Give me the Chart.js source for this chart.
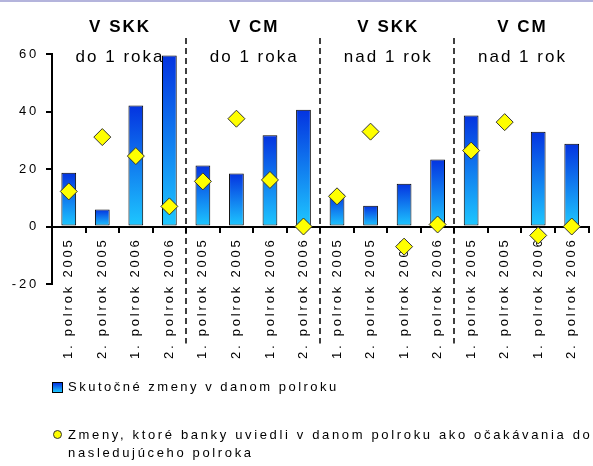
<!DOCTYPE html>
<html>
<head>
<meta charset="utf-8">
<script src="https://cdn.jsdelivr.net/npm/chart.js"></script>
<style>
  html, body { margin: 0; padding: 0; background: #fff; overflow: hidden; }
  #wrap { position: relative; width: 593px; height: 466px; overflow: hidden; }
  #topLine { position: absolute; left: 0; top: 0; width: 593px; height: 2px; background: #b4b4dc; }
  #myChart { position: absolute; left: 0; top: 0; }
  .legend { position: absolute; left: 68px; font-family: 'Liberation Sans', Arial, sans-serif;
            font-size: 13px; letter-spacing: 2.5px; color: #000; line-height: 18px; white-space: nowrap; }
  .boxMark { position: absolute; left: 52px; width: 9px; height: 9px; border: 1px solid #000;
             background: linear-gradient(#0433e0, #1ec8ff); }
  .dotMark { position: absolute; left: 53px; width: 7px; height: 7px; border: 1px solid #333;
             background: #ffff00; border-radius: 50%; }
</style>
</head>
<body>
<div id="wrap">
  <canvas id="myChart" width="598" height="466"></canvas>
  <div id="topLine"></div>
  <div class="boxMark" style="top:382px"></div>
  <div class="legend" style="top:378px">Skutočné zmeny v danom polroku</div>
  <div class="dotMark" style="top:430px"></div>
  <div class="legend" style="top:426px; letter-spacing: 2.65px">Zmeny, ktoré banky uviedli v danom polroku ako očakávania do<br>nasledujúceho polroka</div>
</div>
<script>
/* data */
const categories = [
  '1. polrok 2005', '2. polrok 2005', '1. polrok 2006', '2. polrok 2006',
  '1. polrok 2005', '2. polrok 2005', '1. polrok 2006', '2. polrok 2006',
  '1. polrok 2005', '2. polrok 2005', '1. polrok 2006', '2. polrok 2006',
  '1. polrok 2005', '2. polrok 2005', '1. polrok 2006', '2. polrok 2006'
];
const actualChanges = [18.7, 5.9, 42.1, 59.5, 21.2, 18.4, 31.7, 40.6, 11.4, 7.2, 14.9, 23.3, 38.6, null, 33.0, 28.8];
const expectedChanges = [12.2, 31.1, 24.5, 7.0, 15.7, 37.5, 16.2, 0, 10.5, 33.0, -7.0, 0.7, 26.4, 36.3, -3.1, 0];
const groupTitles = ['V SKK', 'V CM', 'V SKK', 'V CM'];
const groupSubtitles = ['do 1 roka', 'do 1 roka', 'nad 1 rok', 'nad 1 rok'];
const yMin = -20;
const yMax = 60;
const yStep = 20;

const fontFamily = "'Liberation Sans', Arial, sans-serif";

/* wide letter spacing for axis text */
const spacingPlugin = {
  id: 'spacing',
  beforeUpdate(chart) { chart.ctx.letterSpacing = '2.8px'; },
  beforeDraw(chart) { chart.ctx.letterSpacing = '2.8px'; }
};

/* group headers + dashed separators */
const groupPlugin = {
  id: 'groups',
  afterDraw(chart) {
    const ctx = chart.ctx;
    const x = chart.scales.x;
    const y = chart.scales.y;
    const zero = y.getPixelForValue(0);
    ctx.save();
    ctx.strokeStyle = '#000';
    ctx.lineWidth = 1.5;
    ctx.setLineDash([6, 4]);
    for (let g = 1; g < 4; g++) {
      const px = Math.round((x.getPixelForValue(4 * g - 1) + x.getPixelForValue(4 * g)) / 2);
      ctx.beginPath();
      ctx.moveTo(px, chart.chartArea.top - 16);
      ctx.lineTo(px, zero + 117);
      ctx.stroke();
    }
    ctx.setLineDash([]);
    ctx.fillStyle = '#000';
    ctx.textAlign = 'center';
    ctx.textBaseline = 'middle';
    ctx.letterSpacing = '2px';
    for (let g = 0; g < 4; g++) {
      const cx = (x.getPixelForValue(4 * g) + x.getPixelForValue(4 * g + 3)) / 2 + 1;
      ctx.font = 'bold 17px ' + fontFamily;
      ctx.fillText(groupTitles[g], cx, 27);
      ctx.font = '17px ' + fontFamily;
      ctx.fillText(groupSubtitles[g], cx, 57);
    }
    ctx.restore();
  }
};

let ctx = document.querySelector('#myChart').getContext('2d');
let myChart = new Chart(ctx, {
  type: 'bar',
  data: {
    labels: categories,
    datasets: [
      {
        type: 'line',
        label: 'Zmeny, ktoré banky uviedli v danom polroku ako očakávania do nasledujúceho polroka',
        data: expectedChanges,
        showLine: false,
        pointStyle: 'rectRot',
        pointRadius: 8.5,
        pointHoverRadius: 8.5,
        pointBackgroundColor: '#ffff00',
        pointBorderColor: '#333',
        pointBorderWidth: 1,
        clip: false,
        order: 0
      },
      {
        label: 'Skutočné zmeny v danom polroku',
        data: actualChanges,
        backgroundColor: (c) => {
          const chart = c.chart;
          if (!chart.chartArea || c.type !== 'data' || c.parsed.y == null) return '#1a7cf0';
          const y = chart.scales.y;
          const top = y.getPixelForValue(c.parsed.y);
          const base = y.getPixelForValue(0);
          const grad = chart.ctx.createLinearGradient(0, top, 0, base);
          grad.addColorStop(0, '#0433e0');
          grad.addColorStop(1, '#1ec8ff');
          return grad;
        },
        borderColor: '#000',
        borderWidth: 1,
        borderSkipped: false,
        barPercentage: 0.44,
        categoryPercentage: 1,
        order: 1
      }
    ]
  },
  options: {
    responsive: false,
    animation: false,
    devicePixelRatio: 1,
    layout: { padding: { top: 54, left: 0, right: 0, bottom: 182 } },
    plugins: {
      legend: { display: false },
      tooltip: { enabled: false },
      title: { display: false }
    },
    scales: {
      x: {
        position: { y: 0 },
        offset: true,
        grid: { display: true, offset: true, drawOnChartArea: false, tickLength: 5, color: '#000', lineWidth: 2 },
        border: { display: true, color: '#000', width: 2 },
        ticks: {
          autoSkip: false, minRotation: 90, maxRotation: 90, padding: 6,
          color: '#000', font: { family: fontFamily, size: 13 }
        },
        afterFit: (s) => { s.height = 10; }
      },
      y: {
        min: yMin,
        max: yMax,
        grid: { drawOnChartArea: false, tickLength: 6, color: '#000', lineWidth: 2 },
        border: { color: '#000', width: 2 },
        ticks: { stepSize: yStep, padding: 7, color: '#000', font: { family: fontFamily, size: 13 } },
        afterFit: (s) => { s.width = 52; }
      }
    }
  },
  plugins: [spacingPlugin, groupPlugin]
});
</script>
</body>
</html>
